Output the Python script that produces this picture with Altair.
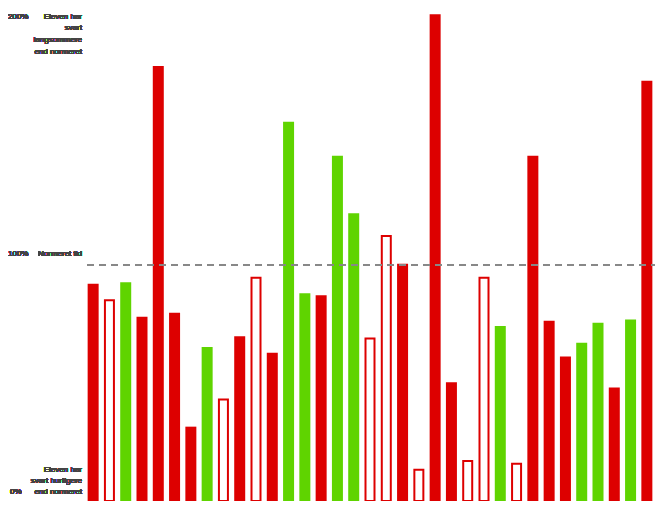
import altair as alt
import pandas as pd

# Data (percent of normeret tid)
bar_ids = [f"{i:02d}" for i in range(1, 36)]
values = [92.1, 85.1, 92.7, 78.1, 184.3, 79.8, 31.5, 65.3, 43.0, 69.8,
          94.6, 62.8, 160.7, 88.0, 87.2, 146.3, 121.9, 68.9, 112.3, 100.5,
          13.2, 206.2, 50.3, 16.9, 94.6, 74.1, 15.8, 146.3, 76.4, 61.2,
          67.1, 75.5, 48.1, 76.9, 178.1]
kinds = ["red", "hollow", "green", "red", "red", "red", "red", "green", "hollow", "red",
         "hollow", "red", "green", "green", "red", "green", "green", "hollow", "hollow", "red",
         "hollow", "red", "red", "hollow", "hollow", "green", "hollow", "red", "red", "red",
         "green", "green", "red", "green", "red"]

top_label = "Eleven har\nsvart\nlangsommere\nend normeret"
mid_label = "Normeret tid"
bottom_label = "Eleven har\nsvart hurtigere\nend normeret"
pct_labels = ["200%", "100%", "0%"]

df = pd.DataFrame({"id": bar_ids, "value": values, "kind": kinds})

RED = "#dd0000"
GREEN = "#5fd400"
W, H = 570, 472

x = alt.X("id:N", axis=None,
          scale=alt.Scale(paddingInner=0.325, paddingOuter=0.1625))
y = alt.Y("value:Q", axis=None, scale=alt.Scale(domain=[0, 200], nice=False, clamp=False))

filled = alt.Chart(df).transform_filter(alt.datum.kind != "hollow").mark_bar(
    size=11, clip=False
).encode(
    x=x, y=y,
    color=alt.Color("kind:N", legend=None,
                    scale=alt.Scale(domain=["red", "green"], range=[RED, GREEN])),
)

hollow = alt.Chart(df).transform_filter(alt.datum.kind == "hollow").mark_bar(
    size=9, fill="white", stroke=RED, strokeWidth=2, clip=False
).encode(x=x, y=y)

rule = alt.Chart(df).mark_rule(
    color="#888888", strokeDash=[7, 5], strokeWidth=1.3
).encode(y=alt.datum(100), x=alt.value(2), x2=alt.value(W))

text_style = dict(font="Liberation Sans", fontSize=8, color="#444444",
                  fontWeight="normal", lineBreak="\n", baseline="top")

t_top = alt.Chart(df).mark_text(align="right", lineHeight=11.8, dy=-16.5, **text_style).encode(
    x=alt.value(-3), y=alt.datum(200), text=alt.value(top_label))
t_top_p = alt.Chart(df).mark_text(align="left", dy=-16.5, **text_style).encode(
    x=alt.value(-77), y=alt.datum(200), text=alt.value(pct_labels[0]))

t_mid = alt.Chart(df).mark_text(align="right", dy=-15.5, **text_style).encode(
    x=alt.value(-3), y=alt.datum(100), text=alt.value(mid_label))
t_mid_p = alt.Chart(df).mark_text(align="left", dy=-15.5, **text_style).encode(
    x=alt.value(-77), y=alt.datum(100), text=alt.value(pct_labels[1]))

t_bot = alt.Chart(df).mark_text(align="right", lineHeight=11.2, dy=-35.5, **text_style).encode(
    x=alt.value(-3), y=alt.datum(0), text=alt.value(bottom_label))
t_bot_p = alt.Chart(df).mark_text(align="left", dy=-13.5, **text_style).encode(
    x=alt.value(-75), y=alt.datum(0), text=alt.value(pct_labels[2]))

chart = alt.layer(filled, hollow, rule, t_top, t_top_p, t_mid, t_mid_p, t_bot, t_bot_p).properties(
    width=W, height=H,
    autosize=alt.AutoSizeParams(type="none"),
    padding={"left": 77, "top": 21, "right": 0, "bottom": 0},
    background="white",
).configure_view(stroke=None)

chart.save("out.html", embed_options={"renderer": "svg", "actions": False})
